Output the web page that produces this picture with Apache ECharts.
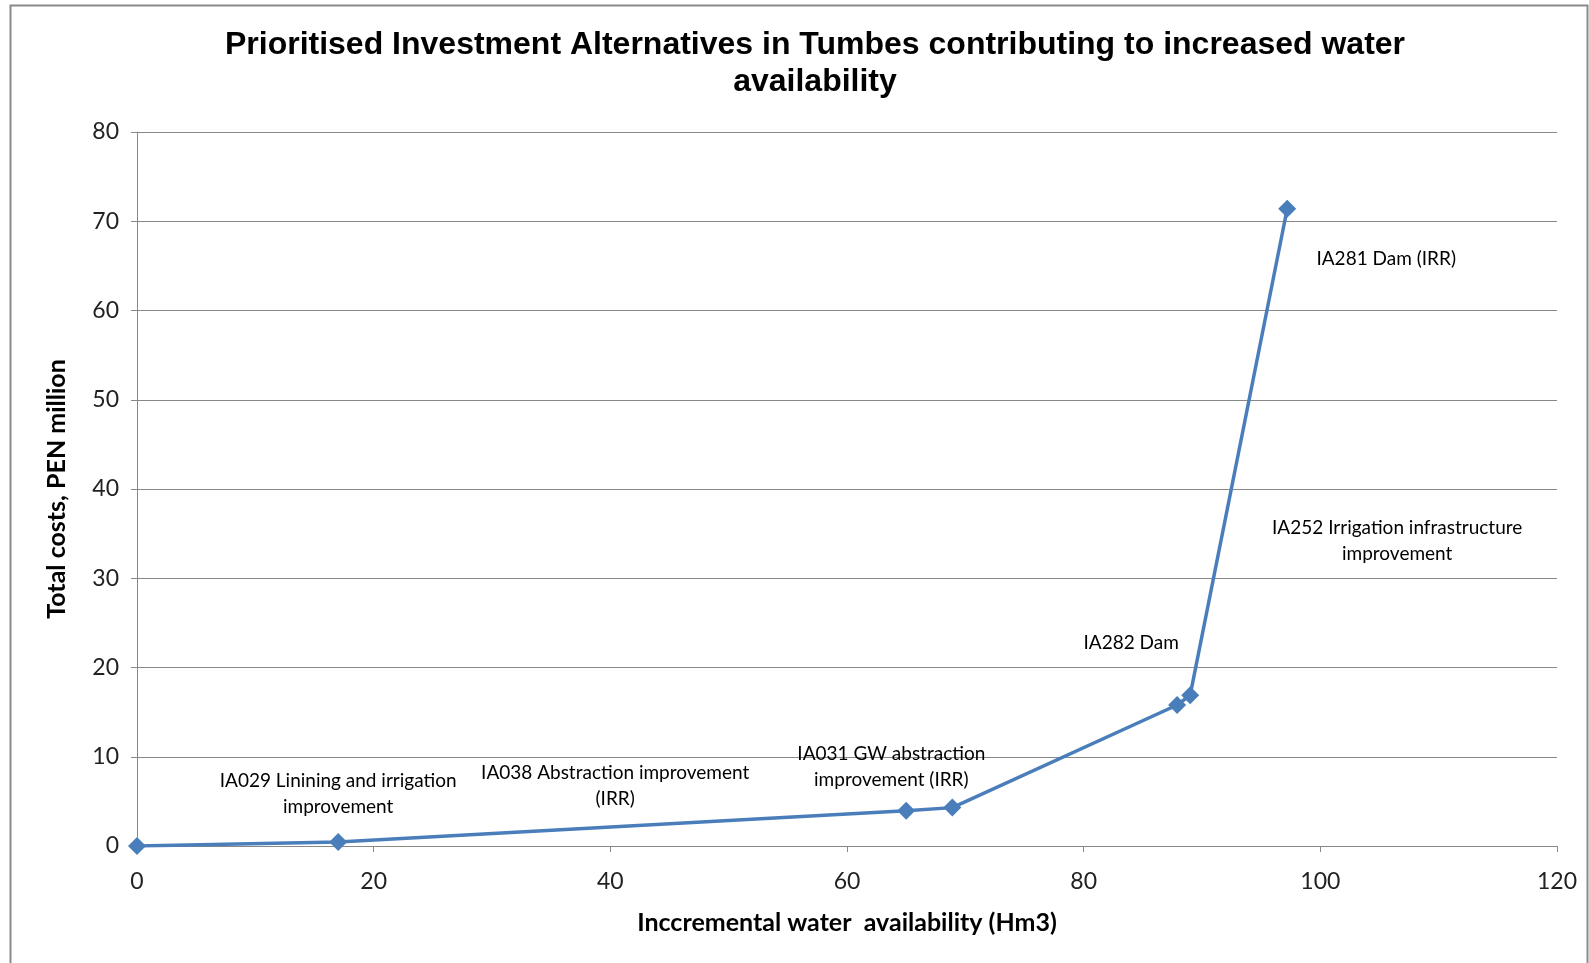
<!DOCTYPE html>
<html>
<head>
<meta charset="utf-8">
<script src="https://cdn.jsdelivr.net/npm/echarts@6/dist/echarts.min.js"></script>
<style>html,body{margin:0;padding:0;background:#fff}#c{width:1589px;height:963px}</style>
</head>
<body>
<div id="c"></div>
<script>
const xValues = [0, 17.0, 65.0, 68.9, 87.9, 89.0, 97.2];
const yValues = [0, 0.45, 3.95, 4.3, 15.8, 16.9, 71.4];
const pointLabels = ["", "IA029 Linining and irrigation\nimprovement", "IA038 Abstraction improvement\n(IRR)", "IA031 GW abstraction\nimprovement (IRR)", "IA282 Dam", "IA252 Irrigation infrastructure\nimprovement", "IA281 Dam (IRR)"];
const labelOffsets = [[0,0],[0,-48],[-291,-25],[-61,-41],[-46,-62],[207,-154],[99,50]];
const xTicks = [0, 20, 40, 60, 80, 100, 120];
const yTicks = [0, 10, 20, 30, 40, 50, 60, 70, 80];

const chart = echarts.init(document.getElementById('c'));
const data = xValues.map((x, i) => ({
  value: [x, yValues[i]],
  label: {
    show: pointLabels[i] !== '',
    formatter: pointLabels[i],
    offset: labelOffsets[i],
    position: 'inside'
  }
}));
chart.setOption({
  animation: false,
  backgroundColor: '#fff',
  title: {
    text: 'Prioritised Investment Alternatives in Tumbes contributing to increased water\navailability',
    left: 810,
    textAlign: 'center',
    top: 22,
    textStyle: { fontFamily: 'Liberation Sans, Arial', fontWeight: 'bold', fontSize: 32, lineHeight: 37, color: '#000' }
  },
  graphic: [{
    type: 'rect', shape: { x: 10.5, y: 5.5, width: 1577, height: 970 },
    style: { fill: 'none', stroke: '#8a8a8a', lineWidth: 2 }, silent: true
  }],
  grid: { left: 137, right: 32, top: 132, bottom: 117 },
  xAxis: {
    type: 'value', min: xTicks[0], max: xTicks[xTicks.length - 1], interval: 20,
    name: 'Inccremental water  availability (Hm3)', nameLocation: 'middle', nameGap: 64,
    nameTextStyle: { fontFamily: 'Lato, Noto Sans', fontWeight: 'bold', fontSize: 25, color: '#000' },
    axisLine: { lineStyle: { color: '#888', width: 1 } },
    axisTick: { show: true, length: 6, lineStyle: { color: '#888' } },
    axisLabel: { fontFamily: 'Lato, Noto Sans', fontSize: 23, color: '#222', margin: 24 },
    splitLine: { show: false }
  },
  yAxis: {
    type: 'value', min: yTicks[0], max: yTicks[yTicks.length - 1], interval: 10,
    name: 'Total costs, PEN million', nameLocation: 'middle', nameGap: 68, nameRotate: 90,
    nameTextStyle: { fontFamily: 'Lato, Noto Sans', fontWeight: 'bold', fontSize: 25, color: '#000' },
    axisLine: { show: true, lineStyle: { color: '#888', width: 1 } },
    axisTick: { show: true, length: 6, lineStyle: { color: '#888' } },
    axisLabel: { fontFamily: 'Lato, Noto Sans', fontSize: 23, color: '#222', margin: 18 },
    splitLine: { show: true, lineStyle: { color: '#888', width: 1 } }
  },
  series: [{
    type: 'line',
    data: data,
    symbol: 'diamond',
    symbolSize: 18,
    lineStyle: { color: '#4a7ebb', width: 3.5 },
    itemStyle: { color: '#4a7ebb' },
    label: { fontFamily: 'Lato, Noto Sans', fontSize: 19, color: '#000', lineHeight: 26, align: 'center' }
  }]
});
</script>
</body>
</html>
